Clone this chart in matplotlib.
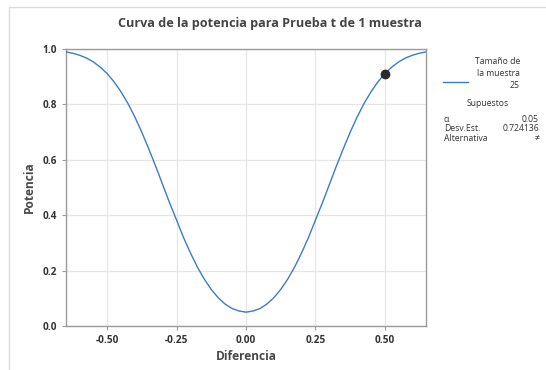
import matplotlib.pyplot as plt
from matplotlib.patches import Rectangle

# Curva de potencia (diferencia, potencia)
diferencia = [-0.650, -0.625, -0.600, -0.575, -0.550, -0.525, -0.500, -0.475, -0.450,
              -0.425, -0.400, -0.375, -0.350, -0.325, -0.300, -0.275, -0.250, -0.225,
              -0.200, -0.175, -0.150, -0.125, -0.100, -0.075, -0.050, -0.025, 0.000,
              0.025, 0.050, 0.075, 0.100, 0.125, 0.150, 0.175, 0.200, 0.225, 0.250,
              0.275, 0.300, 0.325, 0.350, 0.375, 0.400, 0.425, 0.450, 0.475, 0.500,
              0.525, 0.550, 0.575, 0.600, 0.625, 0.650]
potencia = [0.990, 0.985, 0.978, 0.968, 0.954, 0.935, 0.912, 0.882, 0.846,
            0.804, 0.755, 0.700, 0.640, 0.577, 0.511, 0.445, 0.383, 0.320,
            0.264, 0.213, 0.169, 0.132, 0.102, 0.079, 0.063, 0.054, 0.050,
            0.054, 0.063, 0.079, 0.102, 0.132, 0.169, 0.213, 0.264, 0.320, 0.383,
            0.445, 0.511, 0.577, 0.640, 0.700, 0.755, 0.804, 0.846, 0.882, 0.912,
            0.935, 0.954, 0.968, 0.978, 0.985, 0.990]

# Punto del tamaño de muestra calculado
punto_dif = [0.50]
punto_pot = [0.911]

xticks = [-0.50, -0.25, 0.00, 0.25, 0.50]
yticks = [0.0, 0.2, 0.4, 0.6, 0.8, 1.0]

supuestos = [("α", "0.05"), ("Desv.Est.", "0.724136"), ("Alternativa", "≠")]

plt.rcParams['font.family'] = ['Open Sans', 'DejaVu Sans']

fig = plt.figure(figsize=(5.46, 3.70), dpi=100)
W, H = 546, 370

# marco gris claro alrededor del gráfico
fig.patches.append(Rectangle((9 / W, -0.1), 1.2, 1 - 7 / H + 0.1, transform=fig.transFigure,
                             fill=False, edgecolor='#dcdcdc', linewidth=1.0))

ax = fig.add_axes([66 / W, 1 - 326 / H, 360 / W, 277 / H])
ax.plot(diferencia, potencia, color='#3b7cc4', linewidth=1.0, zorder=3)
ax.plot(punto_dif, punto_pot, 'o', color='#2b2b2b', markersize=6, zorder=4)

ax.set_xlim(-0.6475, 0.6475)
ax.set_ylim(0, 1)
ax.set_xticks(xticks)
ax.set_xticklabels([f"{t:.2f}" for t in xticks])
ax.set_yticks(yticks)
ax.set_yticklabels([f"{t:.1f}" for t in yticks])
ax.grid(True, color='#e6e6e6', linewidth=0.9)
ax.set_axisbelow(True)
for s in ax.spines.values():
    s.set_color('#9a9a9a')
    s.set_linewidth(1.0)
ax.tick_params(colors='#9a9a9a', length=3, width=0.8, labelcolor='#333333', labelsize=7.2)
for lab in ax.get_xticklabels() + ax.get_yticklabels():
    lab.set_fontweight('bold')

ax.set_xlabel('Diferencia', fontsize=8.6, color='#484848', labelpad=3, fontweight='bold')
ax.set_ylabel('Potencia', fontsize=8.6, color='#484848', labelpad=5, fontweight='bold')

fig.text(270 / W, 1 - 23 / H, 'Curva de la potencia para Prueba t de 1 muestra',
         ha='center', va='center', fontsize=9.1, color='#444444', fontweight='bold')

# leyenda a la derecha
def fy(y):
    return 1 - y / H

tk = dict(fontsize=6.2, color='#333333', va='center')
fig.text(520 / W, fy(62), 'Tamaño de', ha='right', **tk)
fig.text(520 / W, fy(73), 'la muestra', ha='right', **tk)
fig.text(520 / W, fy(85), '25', ha='right', **tk)
fig.add_artist(plt.Line2D([443 / W, 468 / W], [fy(82), fy(82)], color='#3b7cc4', linewidth=1.0))
fig.text(488 / W, fy(104), 'Supuestos', ha='center', **tk)
for i, (k, v) in enumerate(supuestos):
    y = 119 + i * 9.8
    fig.text(444 / W, fy(y), k, ha='left', **tk)
    fig.text(539 / W, fy(y), v, ha='right', **tk)

fig.savefig('out.png', dpi=100)
